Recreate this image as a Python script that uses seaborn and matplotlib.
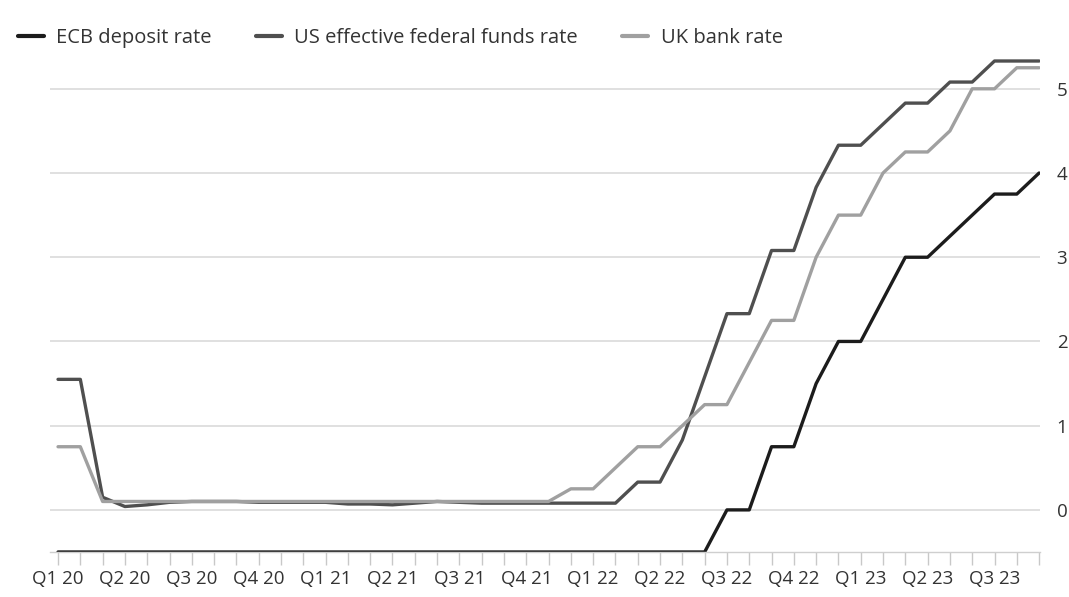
import numpy as np
import pandas as pd
import matplotlib
matplotlib.use("Agg")
import matplotlib.pyplot as plt
import seaborn as sns

# ---- data (monthly, Jan 2020 - Sep 2023) ----
month_index = list(range(45))
quarter_labels = ["Q1 20", "Q2 20", "Q3 20", "Q4 20",
                  "Q1 21", "Q2 21", "Q3 21", "Q4 21",
                  "Q1 22", "Q2 22", "Q3 22", "Q4 22",
                  "Q1 23", "Q2 23", "Q3 23"]

ecb_rate = [-0.5] * 30 + [0.0, 0.0, 0.75, 0.75, 1.5, 2.0, 2.0, 2.5, 3.0, 3.0,
                          3.25, 3.5, 3.75, 3.75, 4.0]
us_rate = [1.55, 1.55, 0.15, 0.04, 0.06, 0.09, 0.10, 0.10, 0.10, 0.09,
           0.09, 0.09, 0.09, 0.07, 0.07, 0.06, 0.08, 0.10, 0.09, 0.08,
           0.08, 0.08, 0.08, 0.08, 0.08, 0.08, 0.33, 0.33, 0.83, 1.58,
           2.33, 2.33, 3.08, 3.08, 3.83, 4.33, 4.33, 4.58, 4.83, 4.83,
           5.08, 5.08, 5.33, 5.33, 5.33]
uk_rate = [0.75, 0.75] + [0.10] * 21 + [0.25, 0.25, 0.5, 0.75, 0.75, 1.0, 1.25,
                                        1.25, 1.75, 2.25, 2.25, 3.0, 3.5, 3.5,
                                        4.0, 4.25, 4.25, 4.5, 5.0, 5.0, 5.25, 5.25]

series_names = ["ECB deposit rate", "US effective federal funds rate", "UK bank rate"]
series_colors = ["#1c1c1c", "#4f4f4f", "#a0a0a0"]

df = pd.DataFrame({
    "month": month_index * 3,
    "rate": ecb_rate + us_rate + uk_rate,
    "series": [series_names[0]] * 45 + [series_names[1]] * 45 + [series_names[2]] * 45,
})

sns.set_theme(style="white")
plt.rcParams["font.family"] = ["Open Sans", "DejaVu Sans"]

W, H = 1069, 597
fig = plt.figure(figsize=(W / 100, H / 100), dpi=100)
ax = fig.add_axes([50 / W, 45 / H, 990 / W, 507 / H])

sns.lineplot(data=df, x="month", y="rate", hue="series", hue_order=series_names,
             palette=dict(zip(series_names, series_colors)), linewidth=2.4,
             ax=ax, legend=True)

handles, labels = ax.get_legend_handles_labels()
ax.get_legend().remove()
for line in ax.lines:
    if line.get_label() == series_names[1]:
        line.set_zorder(4)

ax.set_xlim(-0.36, 44.04)
ax.set_ylim(-0.5, 5.52)

# y axis on the right
ax.yaxis.tick_right()
ax.set_yticks([0, 1, 2, 3, 4, 5])
ax.set_yticklabels(["0", "1", "2", "3", "4", "5"])
ax.tick_params(axis="y", length=0, pad=12, labelsize=13.5, labelcolor="#333333")
ax.yaxis.grid(True, color="#dadada", linewidth=1.2)
ax.set_axisbelow(True)

# x axis: quarterly labels, monthly ticks
ax.set_xticks(np.arange(0, 45, 3))
ax.set_xticklabels(quarter_labels)
ax.set_xticks(month_index, minor=True)
ax.tick_params(axis="x", which="both", direction="out", length=9, width=1,
               color="#c8c8c8", bottom=True)
ax.tick_params(axis="x", which="major", pad=4, labelsize=13.5, labelcolor="#333333")

for s in ["top", "left", "right"]:
    ax.spines[s].set_visible(False)
ax.spines["bottom"].set_color("#cfcfcf")
ax.spines["bottom"].set_linewidth(1)

ax.set_xlabel("")
ax.set_ylabel("")

leg = fig.legend(handles, labels, loc="center left",
                 bbox_to_anchor=(18 / W, 1 - 38 / H), ncol=3, frameon=False,
                 handlelength=1.3, handletextpad=0.6, columnspacing=2.2,
                 fontsize=14.5, borderaxespad=0, borderpad=0)
for t in leg.get_texts():
    t.set_color("#333333")
for lh in leg.get_lines():
    lh.set_linewidth(3)

fig.savefig("out.png", dpi=100, facecolor="white")
